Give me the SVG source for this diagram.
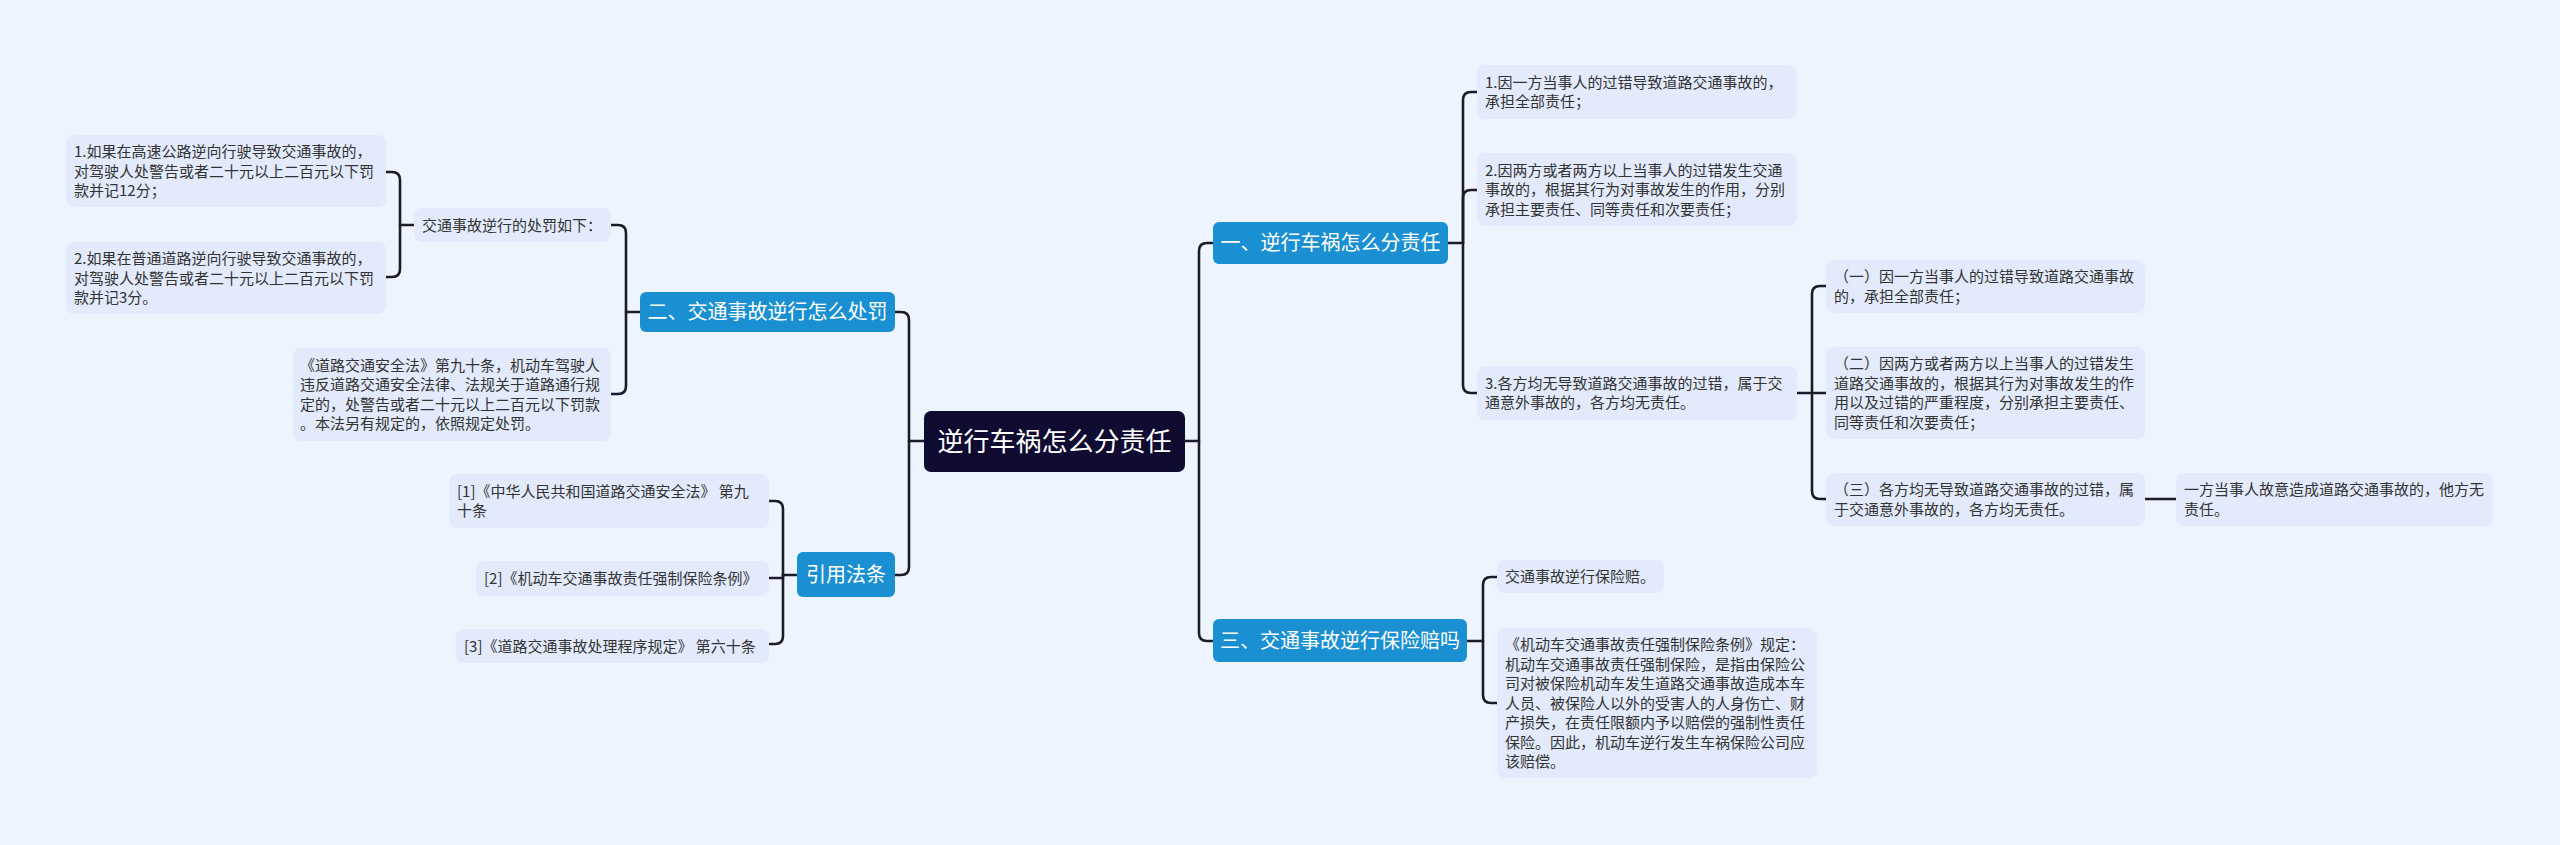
<svg xmlns="http://www.w3.org/2000/svg" width="2560" height="845" viewBox="0 0 2560 845">
<style>
.bg{fill:#eef4fe}
.leaf{fill:#e2eafb}
.br{fill:#1a8fd1}
.root{fill:#100b31}
.lt{font-family:"Noto Sans CJK SC","Noto Sans",sans-serif;font-size:15px;fill:#333333}
.bt{font-family:"Noto Sans CJK SC","Noto Sans",sans-serif;font-size:20px;fill:#ffffff;text-anchor:middle}
.rt{font-family:"Noto Sans CJK SC","Noto Sans",sans-serif;font-size:26px;fill:#ffffff;text-anchor:middle}
.cn{fill:none;stroke:#1c1b2e;stroke-width:2.6;stroke-linecap:round;stroke-linejoin:round}
</style>
<rect class="bg" x="0" y="0" width="2560" height="845"/>
<g id="connectors">
<path class="cn" d="M1185,441 H1199 V251 Q1199,243 1207,243 H1213"/>
<path class="cn" d="M1199,441 V633 Q1199,641 1207,641 H1213"/>
<path class="cn" d="M924,441 H909 V320 Q909,312 901,312 H895"/>
<path class="cn" d="M909,441 V567 Q909,575 901,575 H895"/>
<path class="cn" d="M1448,243 H1463 V100 Q1463,92 1471,92 H1477"/>
<path class="cn" d="M1463,243 V198 Q1463,190 1471,190 H1477"/>
<path class="cn" d="M1463,243 V385 Q1463,393 1471,393 H1477"/>
<path class="cn" d="M1797,393 H1826"/>
<path class="cn" d="M1812,393 V294 Q1812,286 1820,286 H1826"/>
<path class="cn" d="M1812,393 V491 Q1812,499 1820,499 H1826"/>
<path class="cn" d="M2145,499 H2176"/>
<path class="cn" d="M1467,641 H1483 V585 Q1483,577 1491,577 H1497"/>
<path class="cn" d="M1483,641 V695 Q1483,703 1491,703 H1497"/>
<path class="cn" d="M640,312 H626 V233 Q626,225 618,225 H611"/>
<path class="cn" d="M626,312 V386 Q626,394 618,394 H611"/>
<path class="cn" d="M414,225 H400 V180 Q400,172 392,172 H386"/>
<path class="cn" d="M400,225 V269 Q400,277 392,277 H386"/>
<path class="cn" d="M797,575 H783 V509 Q783,501 775,501 H769"/>
<path class="cn" d="M783,575 V578 H769"/>
<path class="cn" d="M783,575 V636 Q783,644 775,644 H769"/>
</g>
<g id="root">
<rect class="root" x="924" y="411" width="261" height="61" rx="7"/>
<text class="rt" x="1054.5" y="450.5">逆行车祸怎么分责任</text>
</g>
<g id="b1">
<rect class="br" x="1213" y="222" width="235" height="42" rx="6"/>
<text class="bt" x="1330.5" y="250">一、逆行车祸怎么分责任</text>
</g>
<g id="b3">
<rect class="br" x="1213" y="619" width="254" height="43" rx="6"/>
<text class="bt" x="1340" y="648">三、交通事故逆行保险赔吗</text>
</g>
<g id="b2">
<rect class="br" x="640" y="292" width="255" height="40" rx="6"/>
<text class="bt" x="767.5" y="319">二、交通事故逆行怎么处罚</text>
</g>
<g id="b4">
<rect class="br" x="797" y="552" width="98" height="45" rx="6"/>
<text class="bt" x="846" y="582">引用法条</text>
</g>
<g id="l-a">
<rect class="leaf" x="66" y="135" width="320" height="72" rx="8"/>
<text class="lt" x="74" y="157">1.如果在高速公路逆向行驶导致交通事故的，<tspan x="74" dy="19.5">对驾驶人处警告或者二十元以上二百元以下罚</tspan><tspan x="74" dy="19.5">款并记12分；</tspan></text>
</g>
<g id="l-b">
<rect class="leaf" x="66" y="242" width="320" height="72" rx="8"/>
<text class="lt" x="74" y="264">2.如果在普通道路逆向行驶导致交通事故的，<tspan x="74" dy="19.5">对驾驶人处警告或者二十元以上二百元以下罚</tspan><tspan x="74" dy="19.5">款并记3分。</tspan></text>
</g>
<g id="l-pen">
<rect class="leaf" x="414" y="208" width="197" height="34" rx="8"/>
<text class="lt" x="422" y="230.5">交通事故逆行的处罚如下：</text>
</g>
<g id="l-c">
<rect class="leaf" x="293" y="348" width="318" height="93" rx="8"/>
<text class="lt" x="300" y="370.5">《道路交通安全法》第九十条，机动车驾驶人<tspan x="300" dy="19.5">违反道路交通安全法律、法规关于道路通行规</tspan><tspan x="300" dy="19.5">定的，处警告或者二十元以上二百元以下罚款</tspan><tspan x="300" dy="19.5">。本法另有规定的，依照规定处罚。</tspan></text>
</g>
<g id="ref1">
<rect class="leaf" x="449" y="474" width="320" height="54" rx="8"/>
<text class="lt" x="457" y="496.5">[1]《中华人民共和国道路交通安全法》 第九<tspan x="457" dy="19.5">十条</tspan></text>
</g>
<g id="ref2">
<rect class="leaf" x="476" y="561" width="293" height="35" rx="8"/>
<text class="lt" x="484" y="584">[2]《机动车交通事故责任强制保险条例》</text>
</g>
<g id="ref3">
<rect class="leaf" x="456" y="629" width="313" height="34" rx="8"/>
<text class="lt" x="464" y="651.5">[3]《道路交通事故处理程序规定》 第六十条</text>
</g>
<g id="r1">
<rect class="leaf" x="1477" y="65" width="320" height="54" rx="8"/>
<text class="lt" x="1485" y="87.5">1.因一方当事人的过错导致道路交通事故的，<tspan x="1485" dy="19.5">承担全部责任；</tspan></text>
</g>
<g id="r2">
<rect class="leaf" x="1477" y="153" width="320" height="73" rx="8"/>
<text class="lt" x="1485" y="175.5">2.因两方或者两方以上当事人的过错发生交通<tspan x="1485" dy="19.5">事故的，根据其行为对事故发生的作用，分别</tspan><tspan x="1485" dy="19.5">承担主要责任、同等责任和次要责任；</tspan></text>
</g>
<g id="r3">
<rect class="leaf" x="1477" y="366" width="320" height="54" rx="8"/>
<text class="lt" x="1485" y="388.5">3.各方均无导致道路交通事故的过错，属于交<tspan x="1485" dy="19.5">通意外事故的，各方均无责任。</tspan></text>
</g>
<g id="s1">
<rect class="leaf" x="1826" y="260" width="319" height="53" rx="8"/>
<text class="lt" x="1834" y="282">（一）因一方当事人的过错导致道路交通事故<tspan x="1834" dy="19.5">的，承担全部责任；</tspan></text>
</g>
<g id="s2">
<rect class="leaf" x="1826" y="347" width="319" height="92" rx="8"/>
<text class="lt" x="1834" y="369">（二）因两方或者两方以上当事人的过错发生<tspan x="1834" dy="19.5">道路交通事故的，根据其行为对事故发生的作</tspan><tspan x="1834" dy="19.5">用以及过错的严重程度，分别承担主要责任、</tspan><tspan x="1834" dy="19.5">同等责任和次要责任；</tspan></text>
</g>
<g id="s3">
<rect class="leaf" x="1826" y="473" width="319" height="53" rx="8"/>
<text class="lt" x="1834" y="495">（三）各方均无导致道路交通事故的过错，属<tspan x="1834" dy="19.5">于交通意外事故的，各方均无责任。</tspan></text>
</g>
<g id="s3a">
<rect class="leaf" x="2176" y="473" width="317" height="53" rx="8"/>
<text class="lt" x="2184" y="495">一方当事人故意造成道路交通事故的，他方无<tspan x="2184" dy="19.5">责任。</tspan></text>
</g>
<g id="i1">
<rect class="leaf" x="1497" y="560" width="167" height="33" rx="8"/>
<text class="lt" x="1505" y="582">交通事故逆行保险赔。</text>
</g>
<g id="i2">
<rect class="leaf" x="1497" y="628" width="320" height="150" rx="8"/>
<text class="lt" x="1505" y="650">《机动车交通事故责任强制保险条例》规定：<tspan x="1505" dy="19.5">机动车交通事故责任强制保险，是指由保险公</tspan><tspan x="1505" dy="19.5">司对被保险机动车发生道路交通事故造成本车</tspan><tspan x="1505" dy="19.5">人员、被保险人以外的受害人的人身伤亡、财</tspan><tspan x="1505" dy="19.5">产损失，在责任限额内予以赔偿的强制性责任</tspan><tspan x="1505" dy="19.5">保险。因此，机动车逆行发生车祸保险公司应</tspan><tspan x="1505" dy="19.5">该赔偿。</tspan></text>
</g>
</svg>
